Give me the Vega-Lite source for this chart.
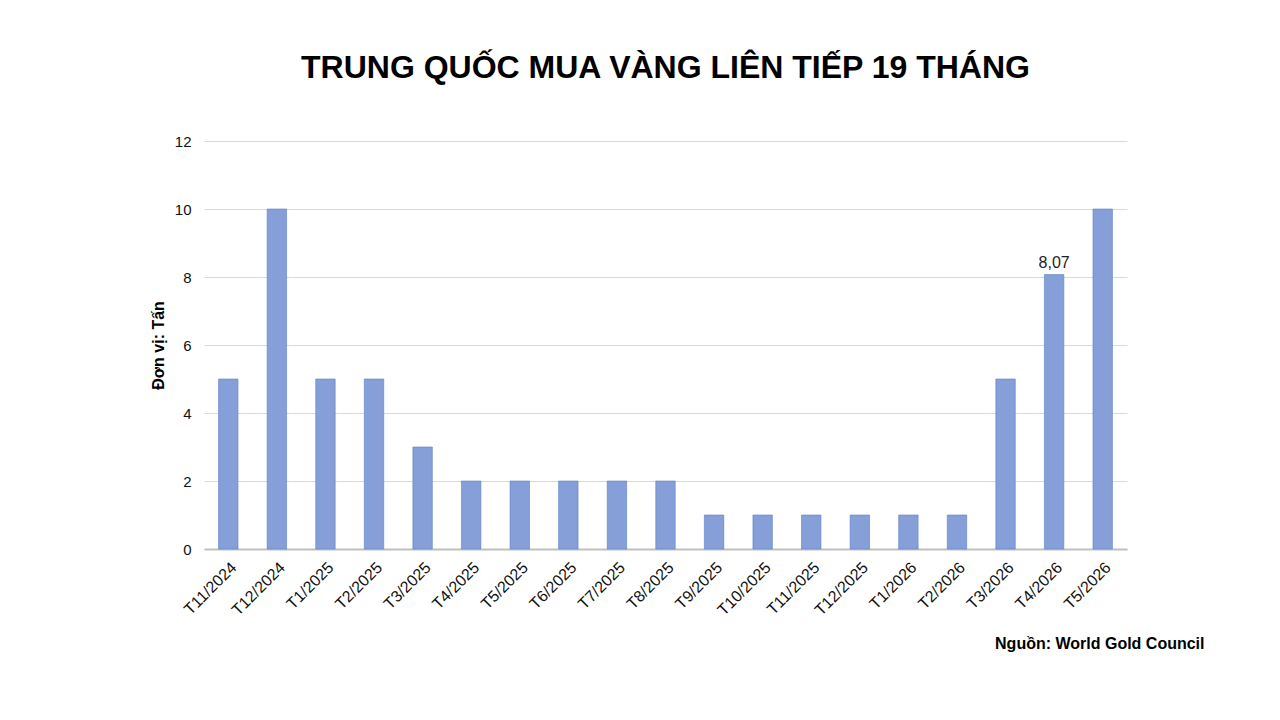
{
  "$schema": "https://vega.github.io/schema/vega-lite/v6.json",
  "autosize": {"type": "none"},
  "padding": {"left": 204, "top": 141, "right": 153, "bottom": 171},
  "width": 923,
  "height": 408,
  "background": "white",
  "title": {
    "text": "TRUNG QUỐC MUA VÀNG LIÊN TIẾP 19 THÁNG",
    "font": "Liberation Sans",
    "fontSize": 32,
    "fontWeight": "bold",
    "color": "#000000",
    "anchor": "middle",
    "baseline": "alphabetic",
    "offset": 24
  },
  "data": {
    "values": [
      {"month": "T11/2024", "tons": 5, "label": ""},
      {"month": "T12/2024", "tons": 10, "label": ""},
      {"month": "T1/2025", "tons": 5, "label": ""},
      {"month": "T2/2025", "tons": 5, "label": ""},
      {"month": "T3/2025", "tons": 3, "label": ""},
      {"month": "T4/2025", "tons": 2, "label": ""},
      {"month": "T5/2025", "tons": 2, "label": ""},
      {"month": "T6/2025", "tons": 2, "label": ""},
      {"month": "T7/2025", "tons": 2, "label": ""},
      {"month": "T8/2025", "tons": 2, "label": ""},
      {"month": "T9/2025", "tons": 1, "label": ""},
      {"month": "T10/2025", "tons": 1, "label": ""},
      {"month": "T11/2025", "tons": 1, "label": ""},
      {"month": "T12/2025", "tons": 1, "label": ""},
      {"month": "T1/2026", "tons": 1, "label": ""},
      {"month": "T2/2026", "tons": 1, "label": ""},
      {"month": "T3/2026", "tons": 5, "label": ""},
      {"month": "T4/2026", "tons": 8.07, "label": "8,07"},
      {"month": "T5/2026", "tons": 10, "label": ""}
    ]
  },
  "encoding": {
    "x": {
      "field": "month",
      "type": "nominal",
      "sort": null,
      "scale": {"paddingInner": 0.6, "paddingOuter": 0.3},
      "axis": {
        "title": "Nguồn: World Gold Council",
        "titleFont": "Liberation Sans",
        "titleFontSize": 16,
        "titleFontWeight": "bold",
        "titleColor": "#000000",
        "titleAnchor": "end",
        "titleAlign": "right",
        "titleBaseline": "alphabetic",
        "titleX": 1000,
        "titleY": 99,
        "labelAngle": -45,
        "labelFont": "Liberation Sans",
        "labelFontSize": 16,
        "labelColor": "#111111",
        "labelPadding": 10,
        "ticks": false,
        "domainColor": "#bfbfbf",
        "domainWidth": 2
      }
    },
    "y": {
      "field": "tons",
      "type": "quantitative",
      "scale": {"domain": [0, 12]},
      "axis": {
        "title": "Đơn vị: Tấn",
        "titleFont": "Liberation Sans",
        "titleFontSize": 16,
        "titleFontWeight": "bold",
        "titleColor": "#000000",
        "titlePadding": 8,
        "values": [0, 2, 4, 6, 8, 10, 12],
        "labelFont": "Liberation Sans",
        "labelFontSize": 15,
        "labelColor": "#111111",
        "labelPadding": 13,
        "ticks": false,
        "domain": false,
        "grid": true,
        "gridColor": "#d9d9d9",
        "gridWidth": 1
      }
    }
  },
  "layer": [
    {
      "mark": {"type": "bar", "color": "#869fd8", "stroke": "#5b7fc8", "strokeWidth": 0.6}
    },
    {
      "mark": {
        "type": "text",
        "dy": -12,
        "font": "Liberation Sans",
        "fontSize": 16,
        "color": "#222222"
      },
      "encoding": {"text": {"field": "label"}}
    }
  ],
  "config": {
    "view": {"stroke": null}
  }
}
